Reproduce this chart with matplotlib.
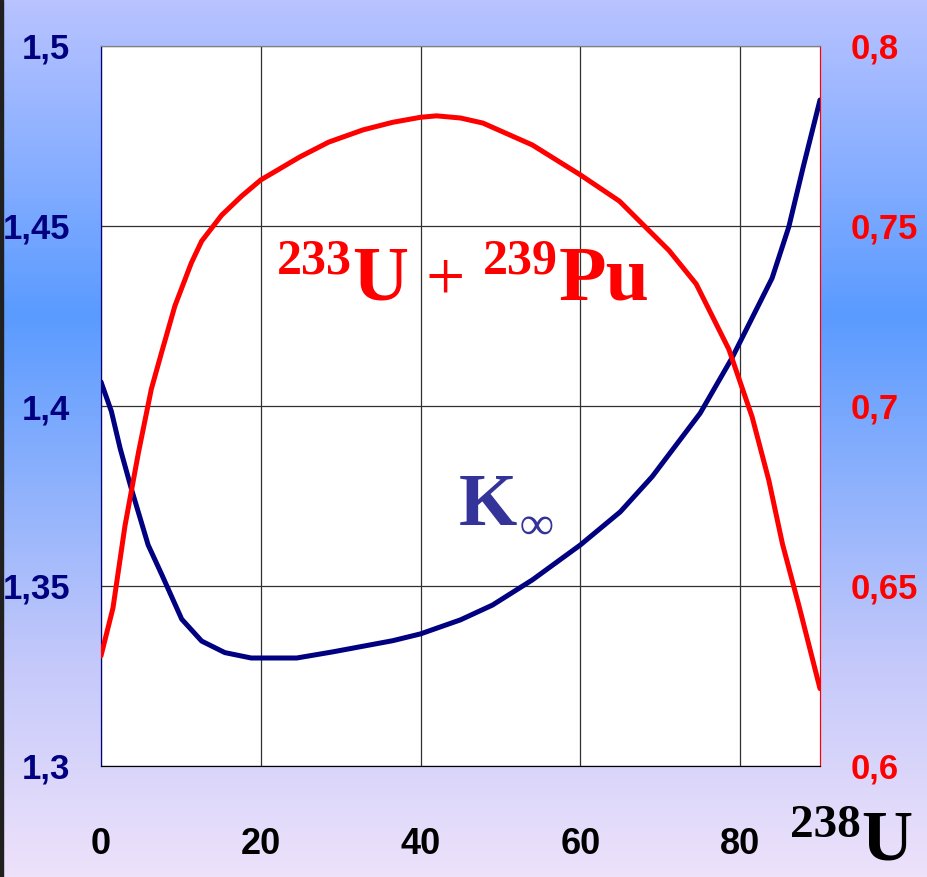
# K-infinity and fissile share vs 238U content
import numpy as np
import matplotlib.pyplot as plt
from matplotlib.colors import LinearSegmentedColormap

# Data
x_k = [0, 1.3, 2.4, 3.8, 5.9, 7.6, 10.1, 12.6, 15.5, 18.8, 24.5, 29, 36.5, 40, 45,
       49, 54, 60, 65, 69, 75, 79, 84, 86.1, 87.9, 90]
k_inf = [1.4067, 1.3985, 1.3882, 1.377, 1.3614, 1.3532, 1.3408, 1.3347, 1.3315, 1.330,
         1.330, 1.3317, 1.3348, 1.3367, 1.3406, 1.3447, 1.3517, 1.3614, 1.3706, 1.3804,
         1.398, 1.4134, 1.4355, 1.4498, 1.4664, 1.485]

x_fis = [0, 1.5, 3.0, 4.7, 6.3, 7.6, 9.25, 11.3, 12.6, 15.1, 17.6, 20, 24.9, 28.5, 32.8,
         36.5, 40, 42, 45, 47.8, 54, 60, 64.9, 71.1, 74.5, 78.6, 81.5, 83.6, 85.3, 87.4, 90]
fissile = [0.6306, 0.6439, 0.6667, 0.6872, 0.7047, 0.715, 0.7278, 0.7397, 0.7458, 0.753,
           0.7583, 0.7628, 0.7692, 0.7733, 0.7767, 0.7788, 0.7802, 0.7806, 0.7800, 0.7786,
           0.7725, 0.7642, 0.7569, 0.7432, 0.7339, 0.7157, 0.697, 0.6793, 0.6617, 0.6442,
           0.6215]

x_ticks = [0, 20, 40, 60, 80]
left_ticks = [1.3, 1.35, 1.4, 1.45, 1.5]
right_ticks = [0.6, 0.65, 0.7, 0.75, 0.8]

W, H = 928, 877
navy = '#000080'
serif = 'Liberation Serif'
tick_font = ['Liberation Sans', 'DejaVu Sans']

fig = plt.figure(figsize=(W / 100, H / 100), dpi=100)
renderer = fig.canvas.get_renderer()

# gradient background
bg = fig.add_axes([0, 0, 1, 1], zorder=-10)
cmap = LinearSegmentedColormap.from_list('bg', [
    (0.0, (185/255, 195/255, 255/255)),
    (0.36, (90/255, 155/255, 255/255)),
    (0.75, (195/255, 200/255, 250/255)),
    (1.0, (238/255, 226/255, 250/255))])
bg.imshow(np.linspace(0, 1, 256).reshape(-1, 1), aspect='auto', cmap=cmap,
          extent=[0, 1, 0, 1])
bg.axvspan(0, 0.0035, color='#202020')
bg.set_xlim(0, 1)
bg.set_ylim(0, 1)
bg.axis('off')

ax = fig.add_axes([101/W, 1 - 766/H, 719/W, 720/H])
ax.set_facecolor('white')
ax.plot(x_k, k_inf, color=navy, lw=3.6, solid_capstyle='round', zorder=3)
ax.set_xlim(0, 90)
ax.set_ylim(1.3, 1.5)
ax.set_xticks(x_ticks)
ax.set_yticks(left_ticks)
ax.set_yticklabels([str(v).replace('.', ',') for v in left_ticks])
ax.grid(True, color='#303030', lw=0.9)
ax.tick_params(length=0)
ax.tick_params(axis='x', pad=44, labelsize=26, labelcolor='black')
ax.tick_params(axis='y', pad=22, labelsize=25, labelcolor=navy)
for lab in ax.get_xticklabels() + ax.get_yticklabels():
    lab.set_family(tick_font)
    lab.set_weight('bold')
ax.spines['top'].set_color('#808080')
ax.spines['left'].set_color(navy)
ax.spines['bottom'].set_color('#303030')
ax.spines['right'].set_color('red')

ax2 = ax.twinx()
ax2.plot(x_fis, fissile, color='red', lw=3.6, solid_capstyle='round', zorder=3)
ax2.set_ylim(0.6, 0.8)
ax2.set_yticks(right_ticks)
ax2.set_yticklabels([str(v).replace('.', ',') for v in right_ticks])
ax2.tick_params(length=0, pad=22, labelsize=25, labelcolor='red')
for lab in ax2.get_yticklabels():
    lab.set_family(tick_font)
    lab.set_weight('bold')
ax2.spines['right'].set_color('red')
ax2.spines['top'].set_color('#808080')
ax2.spines['left'].set_color(navy)


def chain(x0, y0, pieces, color):
    # pieces: (text, fontsize, raise_px, weight, gap_px); x0, y0 in pixels from top-left
    x = x0
    for s, size, dy, weight, gap in pieces:
        t = fig.text(x / W, 1 - (y0 - dy) / H, s, color=color, fontsize=size,
                     family=serif, weight=weight, ha='left', va='baseline')
        x += t.get_window_extent(renderer).width + gap


chain(277, 300, [('233', 36, 26, 'bold', 0), ('U', 56, 0, 'bold', 18),
                 ('+', 50, 0, 'normal', 18), ('239', 36, 26, 'bold', 0),
                 ('Pu', 56, 0, 'bold', 0)], 'red')
chain(459, 525, [('K', 54, 0, 'bold', 2), ('\u221e', 34, -14, 'bold', 0)], '#333399')
chain(790, 859, [('238', 34, 22, 'bold', 0), ('U', 51, 0, 'bold', 0)], 'black')

fig.savefig('out.png', dpi=100)
